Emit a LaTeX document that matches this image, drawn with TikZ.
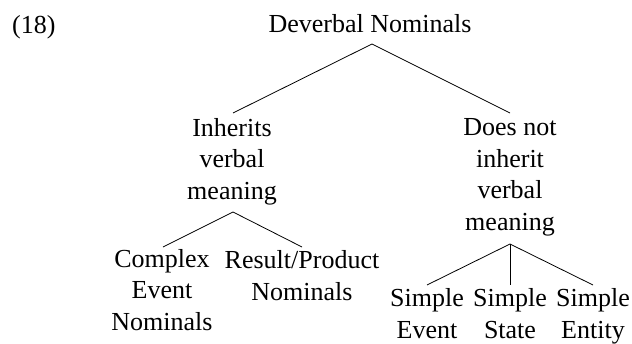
\documentclass[tikz,border=0pt]{standalone}
\usepackage{fontspec}
\setmainfont{Liberation Serif}
\begin{document}
\begin{tikzpicture}[x=1pt,y=-1pt,
  lbl/.style={align=center,anchor=base,inner sep=0pt,font=\fontsize{26}{31.5}\selectfont},
  edge/.style={line width=0.8pt}]
\useasboundingbox (0,0) rectangle (632,343);
\node[lbl,anchor=base west] (num) at (12,33) {(18)};
\node[lbl] (root) at (370,32) {Deverbal Nominals};
\node[lbl] (inh) at (232,199) {Inherits\\verbal\\meaning};
\node[lbl] (dni) at (510,230) {Does not\\inherit\\verbal\\meaning};
\node[lbl] (cen) at (162,330) {Complex\\Event\\Nominals};
\node[lbl] (rpn) at (302,300) {Result/Product\\Nominals};
\node[lbl] (sev) at (427,338) {Simple\\Event};
\node[lbl] (sst) at (510,338) {Simple\\State};
\node[lbl] (sen) at (593,338) {Simple\\Entity};
\coordinate (rootb) at (372,44);
\coordinate (inht) at (233,113);
\coordinate (dnit) at (510,113);
\coordinate (inhb) at (233,212);
\coordinate (cent) at (163,247);
\coordinate (rpnt) at (302,247);
\coordinate (dnib) at (510,244);
\coordinate (sevt) at (427,285);
\coordinate (sstt) at (510,285);
\coordinate (sent) at (593,285);
\draw[edge] (inht) -- (rootb) -- (dnit);
\draw[edge] (cent) -- (inhb) -- (rpnt);
\draw[edge] (sevt) -- (dnib) -- (sent);
\draw[edge] (dnib) -- (sstt);
\end{tikzpicture}
\end{document}
